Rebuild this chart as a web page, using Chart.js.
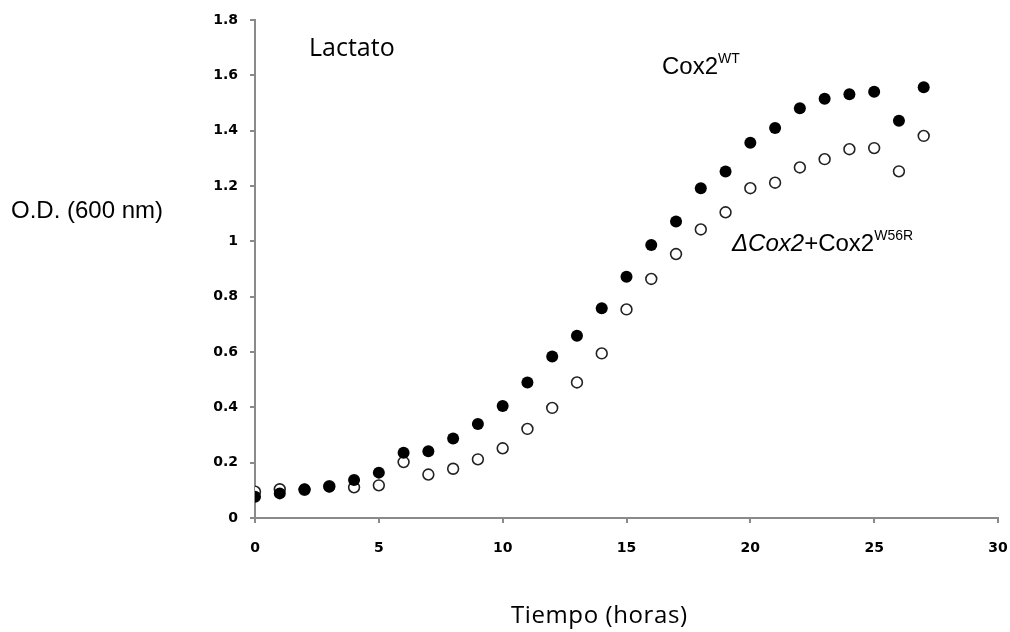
<!DOCTYPE html>
<html>
<head>
<meta charset="utf-8">
<script src="https://cdn.jsdelivr.net/npm/chart.js@4/dist/chart.umd.min.js"></script>
<style>
  html, body { margin: 0; padding: 0; background: #fff; }
  #wrap { position: relative; width: 1010px; height: 632px; }
  #c { position: absolute; left: 0; top: 0; }
  .t { position: absolute; white-space: nowrap; line-height: 1; color: #000; }
  .arial { font-family: "Liberation Sans", Arial, sans-serif; font-size: 24px; }
  .open { font-family: "Open Sans", sans-serif; }
  .sup { font-size: 14px; vertical-align: 11px; }
</style>
</head>
<body>
<div id="wrap">
  <canvas id="c" width="1010" height="632"></canvas>
  <div class="t open" style="left:309px; top:34px; font-size:25px;">Lactato</div>
  <div class="t arial" style="left:662px; top:51px;">Cox2<span class="sup">WT</span></div>
  <div class="t arial" style="left:732px; top:228px;"><i>ΔCox2</i>+Cox2<span class="sup">W56R</span></div>
  <div class="t arial" style="left:11px; top:198px;">O.D. (600 nm)</div>
  <div class="t open" style="left:511px; top:602px; font-size:24px; letter-spacing:0.6px;">Tiempo (horas)</div>
</div>
<script>
// ---- Data ----
const hours = [0,1,2,3,4,5,6,7,8,9,10,11,12,13,14,15,16,17,18,19,20,21,22,23,24,25,26,27];
const wtValues = [0.077,0.089,0.104,0.113,0.137,0.164,0.236,0.241,0.287,0.340,0.405,0.490,0.584,0.659,0.758,0.872,0.987,1.072,1.192,1.252,1.356,1.410,1.481,1.515,1.532,1.541,1.436,1.557];
const mutValues = [0.095,0.104,0.102,0.115,0.111,0.118,0.202,0.157,0.178,0.212,0.252,0.322,0.398,0.490,0.595,0.754,0.864,0.954,1.043,1.105,1.192,1.212,1.267,1.297,1.333,1.337,1.253,1.381];
const xTickLabels = ['0','5','10','15','20','25','30'];
const yTickLabels = ['0','0.2','0.4','0.6','0.8','1','1.2','1.4','1.6','1.8'];

const toPts = (xs, ys) => xs.map((x, i) => ({ x: x, y: ys[i] }));
const axisGray = '#8a8a8a';
Chart.defaults.font.family = 'DejaVu Sans';
Chart.defaults.font.size = 14;
Chart.defaults.font.weight = 'bold';
const tickFont = { family: 'DejaVu Sans', size: 14, weight: 'bold' };

new Chart(document.getElementById('c'), {
  type: 'scatter',
  data: {
    datasets: [
      {
        label: 'Cox2 WT',
        data: toPts(hours, wtValues),
        pointRadius: 6,
        pointHoverRadius: 6,
        pointBackgroundColor: '#000',
        pointBorderColor: '#000',
        pointBorderWidth: 0
      },
      {
        label: 'ΔCox2+Cox2 W56R',
        data: toPts(hours, mutValues),
        pointRadius: 5.4,
        pointHoverRadius: 5.4,
        pointBackgroundColor: '#fff',
        pointBorderColor: '#222',
        pointBorderWidth: 1.6
      }
    ]
  },
  options: {
    responsive: false,
    animation: false,
    events: [],
    layout: { padding: { left: 0, top: 20, right: 12, bottom: 0 } },
    plugins: { legend: { display: false }, tooltip: { enabled: false } },
    scales: {
      x: {
        type: 'linear',
        min: 0, max: 30,
        afterFit: (s) => { s.height = 114; s.paddingRight = 0; s.paddingLeft = 0; },
        border: { display: true, color: axisGray, width: 2 },
        grid: { display: true, drawOnChartArea: false, drawTicks: true, tickLength: 5, color: axisGray, lineWidth: 2 },
        ticks: {
          stepSize: 5, color: '#000', font: tickFont, padding: 17, maxRotation: 0,
          callback: (v, i) => xTickLabels[i]
        }
      },
      y: {
        type: 'linear',
        min: 0, max: 1.8,
        afterFit: (s) => { s.width = 255; s.paddingTop = 0; s.paddingBottom = 0; },
        border: { display: true, color: axisGray, width: 2 },
        grid: { display: true, drawOnChartArea: false, drawTicks: true, tickLength: 5, color: axisGray, lineWidth: 2 },
        ticks: {
          stepSize: 0.2, color: '#000', font: tickFont, padding: 12,
          callback: (v, i) => yTickLabels[i]
        }
      }
    }
  }
});
</script>
</body>
</html>
